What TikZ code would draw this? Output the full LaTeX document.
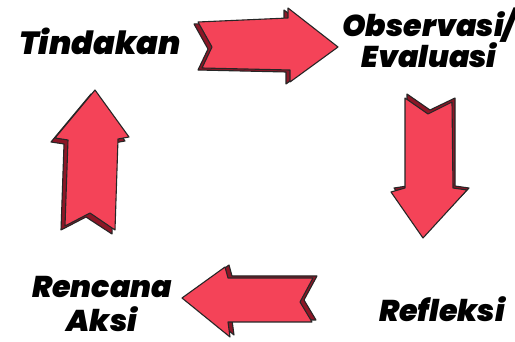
\documentclass[tikz,border=0pt]{standalone}
\usepackage{fontspec}
\setmainfont{Poppins}
\newfontfamily\lbfont{Poppins Black Italic}
\definecolor{arred}{RGB}{244,67,88}
\definecolor{ardark}{RGB}{140,22,38}
\tikzset{
    AR/.style ={fill=arred, draw=black!85, line width=1.1pt, line join=round},
    SH/.style ={fill=ardark, draw=black!85, line width=1.1pt, line join=round},
    LB/.style ={anchor=base, align=center, font=\lbfont\fontsize{30}{28}\selectfont}}
\begin{document}
\begin{tikzpicture}[x=1pt,y=-1pt]
        \useasboundingbox[fill=white] (0,0) rectangle (515,342);
        % labels (base = last line)
        \node[LB, font=\lbfont\fontsize{32}{28}\selectfont] (tin) at (100,55) {Tindakan};
        \node[LB] (obs) at (429,68) {Observasi/\\Evaluasi};
        \node[LB] (ref) at (442,322) {Refleksi};
        \node[LB] (ren) at (102,332) {Rencana\\[7pt]Aksi};
        % right
        \draw[SH] (194,24)--(284,20)--(284,10)--(334,49)--(286,84)--(286,72)--(198,70)--(208,49)--cycle;
        \draw[AR] (198,22)--(288,18)--(288,8)--(338,47)--(290,82)--(290,70)--(202,68)--(212,47)--cycle;
        % down
        \draw[SH] (407,94)--(430,110)--(455,98)--(455,186)--(469,188)--(425,234)--(394,188)--(407,186)--cycle;
        \draw[AR] (405,98)--(428,114)--(452,102)--(453,188)--(467,190)--(423,238)--(391,192)--(405,188)--cycle;
        % left
        \draw[SH] (186,296)--(229,265)--(232,276)--(317,276)--(304,300)--(316,320)--(232,320)--(234,335)--cycle;
        \draw[AR] (182,298)--(225,267)--(228,278)--(313,278)--(300,302)--(312,322)--(228,322)--(230,337)--cycle;
        % up
        \draw[SH] (51,142)--(91,94)--(125,141)--(114,143)--(112,234)--(86,217)--(61,230)--(64,144)--cycle;
        \draw[AR] (55,138)--(95,90)--(129,137)--(118,139)--(115,230)--(90,213)--(65,226)--(68,140)--cycle;
    \end{tikzpicture}
\end{document}
